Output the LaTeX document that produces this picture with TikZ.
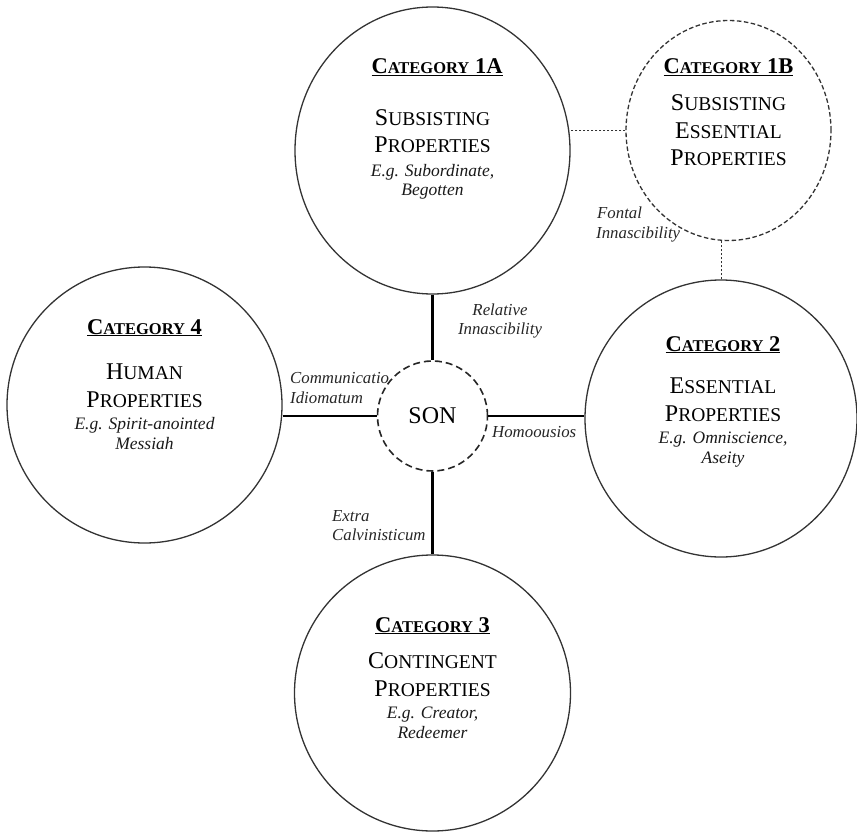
\documentclass[tikz,border=0pt]{standalone}
\usepackage{fontspec}
\setmainfont{Liberation Serif}
\usetikzlibrary{shapes.geometric}
\newcommand{\hdcap}[2]{{\fontsize{22.5}{24}\selectfont\bfseries #1}{\fontsize{16.5}{18}\selectfont\bfseries #2}}
\newcommand{\ttcap}[2]{{\fontsize{24}{26}\selectfont #1}{\fontsize{19.5}{21}\selectfont #2}}
\newcommand{\catline}[1]{\underline{\hdcap{C}{ATEGORY}{\fontsize{22.5}{24}\selectfont\bfseries\ #1}}}
\begin{document}
\begin{tikzpicture}[x=1pt,y=-1pt,
  cat/.style={ellipse, draw=black!80, line width=1.3pt, inner sep=0pt},
  hd/.style={anchor=base, inner sep=0pt, text=black},
  tt/.style={anchor=base, inner sep=0pt, text=black},
  eg/.style={anchor=base, inner sep=0pt, text=black!90, font=\fontsize{17.5}{20}\selectfont\itshape},
  lbl/.style={anchor=base west, inner sep=0pt, text=black!85, font=\fontsize{16.8}{20}\selectfont\itshape},
  lblc/.style={anchor=base, inner sep=0pt, text=black!85, font=\fontsize{16.8}{20}\selectfont\itshape},
  link/.style={line width=2.6pt, draw=black},
  dotlink/.style={line width=1pt, dash pattern=on 2.5pt off 1.5pt, draw=black!80}]
\useasboundingbox (0,0) rectangle (857,832);

% circles
\node[cat, minimum width=275pt, minimum height=287pt] (c1a) at (432.5,150.5) {};
\node[cat, dash pattern=on 4.5pt off 2.5pt, minimum width=205pt, minimum height=220pt] (c1b) at (728.5,130.5) {};
\node[cat, minimum width=272pt, minimum height=277pt] (c2) at (721,418.5) {};
\node[cat, minimum width=276pt, minimum height=276pt] (c3) at (432.5,693) {};
\node[cat, minimum width=275pt, minimum height=276pt] (c4) at (144.5,405) {};
\node[circle, draw=black!85, line width=1.6pt, dash pattern=on 7pt off 4pt, minimum size=110pt, inner sep=0pt,
      font=\fontsize{24}{26}\selectfont, text=black] (son) at (432.5,416) {SON};

% connectors
\draw[link] (c1a.south) -- (son.north);
\draw[link] (son.south) -- (c3.north);
\draw[link] (son.west) -- (c4.east |- son.west);
\draw[link] (son.east) -- (c2.west |- son.east);
\draw[dotlink] (c1b.west) -- (c1b.west -| c1a.east);
\draw[dotlink] (c2.north) -- (c2.north |- c1b.south);

% category 1A
\node[hd] (h1a) at (437,74) {\catline{1A}};
\node[tt] (s1a1) at (432.5,126) {\ttcap{S}{UBSISTING}};
\node[tt] (s1a2) at (432.5,153) {\ttcap{P}{ROPERTIES}};
\node[eg] (e1a1) at (432.5,177) {E.g. Subordinate,};
\node[eg] (e1a2) at (432.5,196) {Begotten};

% category 1B
\node[hd] (h1b) at (728.5,74) {\catline{1B}};
\node[tt] (s1b1) at (728.5,111) {\ttcap{S}{UBSISTING}};
\node[tt] (s1b2) at (728.5,139) {\ttcap{E}{SSENTIAL}};
\node[tt] (s1b3) at (728.5,166) {\ttcap{P}{ROPERTIES}};

% category 2
\node[hd] (h2) at (723,351) {\catline{2}};
\node[tt] (s21) at (723,393) {\ttcap{E}{SSENTIAL}};
\node[tt] (s22) at (723,421) {\ttcap{P}{ROPERTIES}};
\node[eg] (e21) at (723,443) {E.g. Omniscience,};
\node[eg] (e22) at (723,463) {Aseity};

% category 3
\node[hd] (h3) at (432.5,632) {\catline{3}};
\node[tt] (s31) at (432.5,668) {\ttcap{C}{ONTINGENT}};
\node[tt] (s32) at (432.5,696) {\ttcap{P}{ROPERTIES}};
\node[eg] (e31) at (432.5,718) {E.g. Creator,};
\node[eg] (e32) at (432.5,738) {Redeemer};

% category 4
\node[hd] (h4) at (144.5,334) {\catline{4}};
\node[tt] (s41) at (144.5,379) {\ttcap{H}{UMAN}};
\node[tt] (s42) at (144.5,407) {\ttcap{P}{ROPERTIES}};
\node[eg] (e41) at (144.5,429) {E.g. Spirit-anointed};
\node[eg] (e42) at (144.5,449) {Messiah};

% connector labels
\node[lblc] (l1) at (500,315) {Relative};
\node[lblc] (l2) at (500,334) {Innascibility};
\node[lbl] (l3) at (290,383) {Communicatio};
\node[lbl] (l4) at (290,403) {Idiomatum};
\node[lbl] (l5) at (492,437) {Homoousios};
\node[lbl] (l6) at (332,521) {Extra};
\node[lbl] (l7) at (332,540) {Calvinisticum};
\node[lbl] (l8) at (597,218) {Fontal};
\node[lbl] (l9) at (596,238) {Innascibility};
\end{tikzpicture}
\end{document}
